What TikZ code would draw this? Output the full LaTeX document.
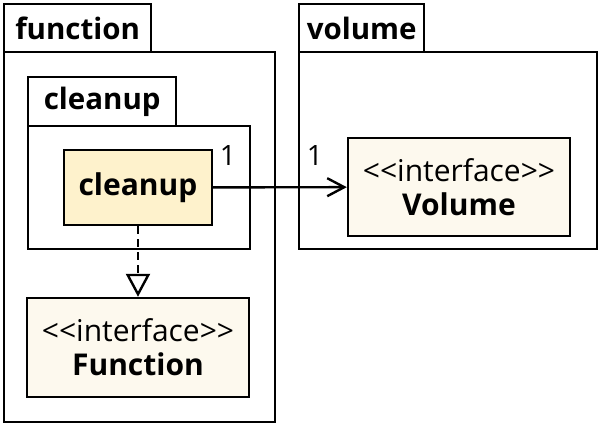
\documentclass[tikz,border=0pt]{standalone}
\usepackage{fontspec}
\setmainfont{Open Sans}
\usetikzlibrary{arrows.meta}
\definecolor{classfill}{HTML}{FEF2CC}
\definecolor{ifacefill}{HTML}{FDF9EE}
\newcommand{\stereo}[1]{{<}{<}#1{>}{>}}
\tikzset{
  pkgtab/.style={draw, line width=2.4pt, anchor=north west, inner sep=0pt,
    font=\bfseries\fontsize{29.5}{34}\selectfont},
  pkgbody/.style={draw, line width=2.4pt, anchor=north west, inner sep=0pt},
  classbox/.style={draw, line width=2.4pt, fill=classfill, inner sep=0pt,
    font=\bfseries\fontsize{30}{34}\selectfont},
  ifacebox/.style={draw, line width=2.4pt, fill=ifacefill, inner sep=0pt,
    align=center, font=\fontsize{30}{34}\selectfont},
  mult/.style={inner sep=0pt, font=\fontsize{28}{30}\selectfont},
}
\begin{document}
\begin{tikzpicture}[x=1pt,y=-1pt]
  \useasboundingbox (0,0) rectangle (598,430);
  % package function
  \node[pkgbody, minimum width=271pt, minimum height=370pt] (functionbody) at (3,51) {};
  \node[pkgtab, minimum width=147pt, minimum height=48pt] (functiontab) at (3,3) {function};
  % package cleanup
  \node[pkgbody, minimum width=222pt, minimum height=123pt] (cleanupbody) at (27,125) {};
  \node[pkgtab, minimum width=148pt, minimum height=49pt] (cleanuptab) at (27,76) {cleanup};
  % package volume
  \node[pkgbody, minimum width=298pt, minimum height=197pt] (volumebody) at (298,51) {};
  \node[pkgtab, minimum width=125pt, minimum height=48pt] (volumetab) at (298,3) {volume};

  % classes
  \node[classbox, minimum width=148pt, minimum height=75pt] (cleanup) at (138,187.5) {cleanup};
  \node[ifacebox, minimum width=222pt, minimum height=98pt] (volume) at (459,187) {\stereo{interface}\\\textbf{Volume}};
  \node[ifacebox, minimum width=222pt, minimum height=99pt] (function) at (138,347.5) {\stereo{interface}\\\textbf{Function}};

  % relations
  \draw[line width=2.4pt, dash pattern=on 8pt off 5pt,
    -{Triangle[open, fill=white, length=23pt, width=24pt, line width=2.4pt]}] (cleanup) -- (function);
  \draw[line width=2.4pt, -{Straight Barb[length=17pt, width=18pt, line width=2.4pt]}] (cleanup) -- (volume);
  \node[mult] (multa) at (228,156) {1};
  \node[mult] (multb) at (315,156) {1};
\end{tikzpicture}
\end{document}
